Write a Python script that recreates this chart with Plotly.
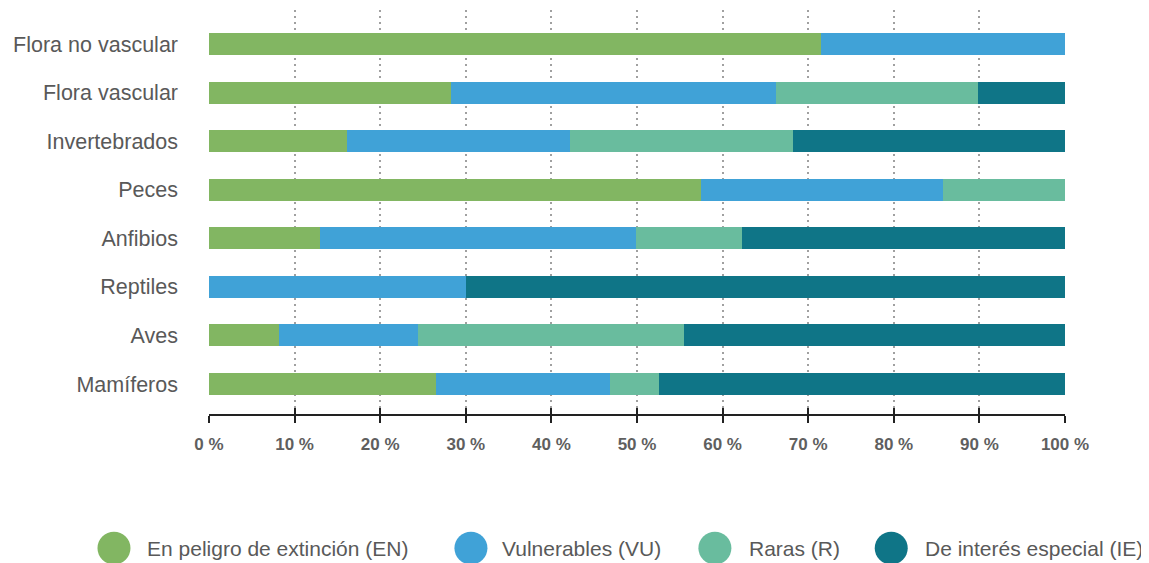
import plotly.graph_objects as go

categories = ["Flora no vascular", "Flora vascular", "Invertebrados", "Peces",
              "Anfibios", "Reptiles", "Aves", "Mamíferos"]
series_names = ["En peligro de extinción (EN)", "Vulnerables (VU)", "Raras (R)",
                "De interés especial (IE)"]
en_values = [71.5, 28.3, 16.1, 57.5, 13.0, 0.0, 8.2, 26.5]
vu_values = [28.5, 37.9, 26.1, 28.2, 36.9, 30.0, 16.2, 20.3]
r_values = [0.0, 23.6, 26.0, 14.3, 12.4, 0.0, 31.1, 5.8]
ie_values = [0.0, 10.2, 31.8, 0.0, 37.7, 70.0, 44.5, 47.4]
colors = ["#82b662", "#40a2d7", "#69bc9e", "#0f7587"]
tick_vals = [0, 10, 20, 30, 40, 50, 60, 70, 80, 90, 100]
tick_text = ["0 %", "10 %", "20 %", "30 %", "40 %", "50 %", "60 %", "70 %",
             "80 %", "90 %", "100 %"]

FONT = "Liberation Sans, Arial, Helvetica, sans-serif"

fig = go.Figure()
for name, vals, col in zip(series_names, [en_values, vu_values, r_values, ie_values], colors):
    fig.add_trace(go.Bar(y=categories, x=vals, name=name, orientation="h",
                         marker=dict(color=col, line=dict(width=0)),
                         showlegend=False))

# invisible overlay axis for the upward part of the ticks
fig.add_trace(go.Scatter(x=[0, 100], y=[categories[0], categories[0]], xaxis="x2",
                         mode="markers", marker=dict(opacity=0), showlegend=False,
                         hoverinfo="skip"))

fig.update_layout(
    width=1149, height=563,
    barmode="stack", bargap=0.547,
    plot_bgcolor="white", paper_bgcolor="white",
    margin=dict(l=201, r=92, t=2, b=157),
    font=dict(family=FONT, color="#595959"),
    showlegend=False,
    xaxis=dict(range=[0, 100], tickvals=tick_vals, ticktext=tick_text,
               showgrid=True, gridcolor="#a0a0a0", griddash="2px,4px", gridwidth=2,
               zeroline=False, showline=True, linecolor="#222", linewidth=1.5,
               ticks="outside", ticklen=7, tickwidth=1.5, tickcolor="#222",
               ticklabelstandoff=7,
               tickfont=dict(size=17, color="#5f5f5f", family=FONT, weight="bold")),
    xaxis2=dict(range=[0, 100], overlaying="x", side="bottom", anchor="y",
                tickvals=tick_vals, showticklabels=False, showgrid=False,
                zeroline=False, showline=False,
                ticks="inside", ticklen=6, tickwidth=1.5, tickcolor="#222"),
    yaxis=dict(categoryorder="array", categoryarray=categories,
               range=[7.618, -0.70], showgrid=False, zeroline=False, showline=False,
               ticks="", ticklabelstandoff=30,
               tickfont=dict(size=21.5, color="#595959", family=FONT)),
)

legend_cx = [-0.111, 0.306, 0.591, 0.797]
legend_tx = [-0.0748, 0.340, 0.6285, 0.834]
legend_y = -0.332
for name, col, cx, tx in zip(series_names, colors, legend_cx, legend_tx):
    fig.add_shape(type="circle", xref="paper", yref="paper",
                  xsizemode="pixel", ysizemode="pixel",
                  xanchor=cx, yanchor=legend_y, x0=-16.5, x1=16.5, y0=-16.5, y1=16.5,
                  fillcolor=col, line=dict(width=0))
    fig.add_annotation(text=name, xref="paper", yref="paper", x=tx, y=legend_y,
                       xanchor="left", yanchor="middle", showarrow=False,
                       font=dict(size=21, color="#595959", family=FONT))

fig.write_html("out.html")
